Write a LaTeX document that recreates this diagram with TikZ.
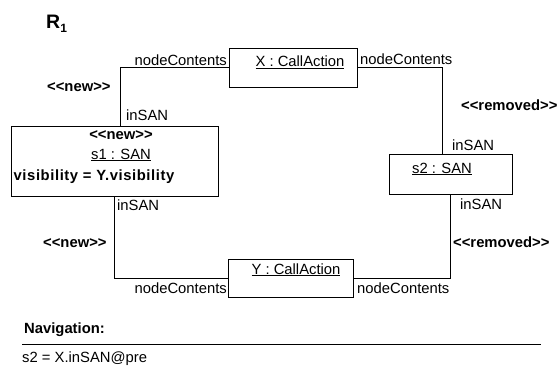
\documentclass[tikz,border=0pt]{standalone}
\usepackage{fontspec}
\setmainfont{Liberation Sans}
\begin{document}
\begin{tikzpicture}[x=1pt,y=-1pt,
  every node/.style={inner sep=0pt, font=\fontsize{14.8}{17}\selectfont},
  objbox/.style={draw, line width=0.9pt, fill=white, inner sep=0pt},
  conn/.style={line width=0.8pt},
  txt/.style={anchor=base west},
  txtr/.style={anchor=base east},
  txtc/.style={anchor=base},
  stereo/.style={anchor=base west, font=\fontsize{14.8}{17}\selectfont\bfseries}]
\useasboundingbox (0,0) rectangle (559,372);

% rule name
\node[anchor=base west, font=\fontsize{19.5}{22}\selectfont\bfseries] (title) at (46,28) {R\raisebox{-4pt}{\fontsize{12}{14}\selectfont 1}};

% object boxes
\node[objbox, minimum width=128pt, minimum height=39pt] (X) at (293,67.5) {};
\node[objbox, minimum width=207pt, minimum height=70pt] (s1) at (114.5,161) {};
\node[objbox, minimum width=123pt, minimum height=40pt] (s2) at (450.5,174) {};
\node[objbox, minimum width=125pt, minimum height=38pt] (Y) at (291,278) {};

% box contents
\node[txtc] (Xname) at (300,66.5) {\underline{X : CallAction}};
\node[txtc, font=\fontsize{14.8}{17}\selectfont\bfseries] (s1st) at (121,139.5) {<{}<new>{}>};
\node[txtc] (s1name) at (121,159) {\underline{s1 : SAN}};
\node[txtc, font=\fontsize{14.8}{17}\selectfont\bfseries\addfontfeature{LetterSpace=4}] (s1att) at (94,180) {visibility = Y.visibility};
\node[txtc] (s2name) at (442,173) {\underline{s2 : SAN}};
\node[txtc] (Yname) at (296,274) {\underline{Y : CallAction}};

% links
\draw[conn] (X.west) -| ([xshift=110pt]s1.north west);
\draw[conn] (X.east) -| ([xshift=54pt]s2.north west);
\draw[conn] ([xshift=104pt]s1.south west) |- (Y.west);
\draw[conn] ([xshift=62pt]s2.south west) |- (Y.east);

% link end labels
\node[txtr] (l1) at (227,65) {nodeContents};
\node[txt] (l2) at (126,120.5) {inSAN};
\node[stereo] (l3) at (47,91.5) {<{}<new>{}>};
\node[txt] (l4) at (360,64.5) {nodeContents};
\node[txt] (l5) at (452,150) {inSAN};
\node[stereo] (l6) at (461,110) {<{}<removed>{}>};
\node[txt] (l7) at (117,210.5) {inSAN};
\node[stereo] (l8) at (43,247) {<{}<new>{}>};
\node[txtr] (l9) at (227,293) {nodeContents};
\node[txt] (l10) at (460,209) {inSAN};
\node[stereo] (l11) at (453,247) {<{}<removed>{}>};
\node[txt] (l12) at (357,293) {nodeContents};

% navigation section
\node[stereo] (nav) at (24,333) {Navigation:};
\coordinate (ruleA) at (22,344.5);
\coordinate (ruleB) at (541,344.5);
\draw[line width=1.8pt] (ruleA) -- (ruleB);
\node[txt] (navexpr) at (22,362) {s2 = X.inSAN@pre};
\end{tikzpicture}
\end{document}
